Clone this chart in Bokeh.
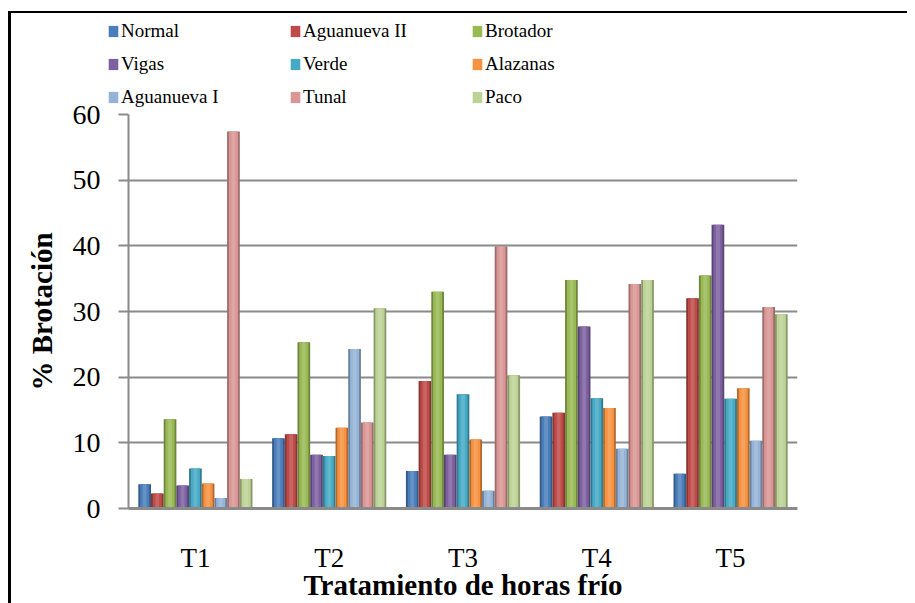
from bokeh.plotting import figure
from bokeh.layouts import column
from bokeh.models import FactorRange, Range1d, Legend, LegendItem, ColumnDataSource, FixedTicker
from bokeh.transform import dodge
from bokeh.embed import file_html
from bokeh.resources import INLINE

treatments = ["T1", "T2", "T3", "T4", "T5"]
series = ["Normal", "Aguanueva II", "Brotador", "Vigas", "Verde",
          "Alazanas", "Aguanueva I", "Tunal", "Paco"]
normal = [3.7, 10.7, 5.7, 14.0, 5.3]
aguanueva_ii = [2.3, 11.3, 19.4, 14.6, 32.0]
brotador = [13.6, 25.3, 33.0, 34.8, 35.5]
vigas = [3.5, 8.2, 8.2, 27.7, 43.2]
verde = [6.1, 8.0, 17.4, 16.8, 16.7]
alazanas = [3.8, 12.3, 10.5, 15.3, 18.3]
aguanueva_i = [1.6, 24.3, 2.7, 9.1, 10.3]
tunal = [57.4, 13.1, 39.9, 34.2, 30.7]
paco = [4.5, 30.5, 20.3, 34.8, 29.6]
y_ticks = [0, 10, 20, 30, 40, 50, 60]

colors = ["#4A7EBB", "#BE4B48", "#98B954", "#7D60A0", "#46AAC5",
          "#F69240", "#94B3D6", "#D99694", "#BDD396"]


def shade(hex_color, f):
    r, g, b = (int(hex_color[i:i + 2], 16) for i in (1, 3, 5))
    return "#%02X%02X%02X" % (int(r * f), int(g * f), int(b * f))


values = [normal, aguanueva_ii, brotador, vigas, verde, alazanas, aguanueva_i, tunal, paco]
keys = ["s%d" % i for i in range(len(series))]
data = {"t": treatments}
for k, v in zip(keys, values):
    data[k] = v
source = ColumnDataSource(data)

SERIF = "Liberation Serif"
bw = 0.0948
TOP = 18

# ---- main chart ----
p = figure(x_range=FactorRange(factors=treatments, range_padding=0),
           y_range=Range1d(0, 60),
           width=896, height=489 + TOP,
           output_backend="svg", toolbar_location=None,
           min_border_left=117, min_border_right=110,
           min_border_top=TOP, min_border_bottom=91)
p.outline_line_color = None
p.background_fill_color = None
p.border_fill_color = None
p.styles = {"margin-top": "-%dpx" % TOP}

for i, (k, c) in enumerate(zip(keys, colors)):
    x = dodge("t", (i - 4) * bw, range=p.x_range)
    p.vbar(x=x, top=k, bottom=0, width=bw, source=source,
           fill_color=shade(c, 0.72), line_color=None)
    p.vbar(x=x, top=k, bottom=0, width=bw * 0.72, source=source,
           fill_color=c, line_color=None)
    p.vbar(x=x, top=k, bottom=0, width=bw * 0.3, source=source,
           fill_color="white", fill_alpha=0.15, line_color=None)

p.xgrid.grid_line_color = None
p.ygrid.grid_line_color = "#8A8A8A"
p.ygrid.grid_line_width = 2
p.yaxis.ticker = FixedTicker(ticks=y_ticks)

p.yaxis.axis_line_color = "#8A8A8A"
p.yaxis.axis_line_width = 2
p.yaxis.major_tick_line_color = "#8A8A8A"
p.yaxis.major_tick_line_width = 2
p.yaxis.major_tick_out = 10
p.yaxis.major_tick_in = 0
p.yaxis.minor_tick_line_color = None
p.yaxis.major_label_standoff = 18
p.yaxis.major_label_text_font = SERIF
p.yaxis.major_label_text_font_size = "28px"
p.yaxis.major_label_text_color = "black"
p.yaxis.axis_label = "% Brotación"
p.yaxis.axis_label_text_font = SERIF
p.yaxis.axis_label_text_font_style = "bold"
p.yaxis.axis_label_text_font_size = "29px"
p.yaxis.axis_label_text_color = "black"
p.yaxis.axis_label_standoff = 12

p.xaxis.axis_line_color = "#8A8A8A"
p.xaxis.axis_line_width = 3
p.xaxis.major_tick_line_color = None
p.xaxis.major_tick_out = 0
p.xaxis.major_tick_in = 0
p.xaxis.minor_tick_line_color = None
p.xaxis.major_label_standoff = 34
p.xaxis.major_label_text_font = SERIF
p.xaxis.major_label_text_font_size = "27px"
p.xaxis.major_label_text_color = "black"
p.xaxis.axis_label = "Tratamiento de horas frío"
p.xaxis.axis_label_text_font = SERIF
p.xaxis.axis_label_text_font_style = "bold"
p.xaxis.axis_label_text_font_size = "29px"
p.xaxis.axis_label_text_color = "black"
p.xaxis.axis_label_standoff = -7

# ---- legend strip (same data, bars lie below its visible range) ----
lf = figure(x_range=p.x_range, y_range=Range1d(100, 101),
            width=896, height=101,
            output_backend="svg", toolbar_location=None,
            x_axis_location=None, y_axis_location=None,
            min_border_left=117, min_border_right=110,
            min_border_top=0, min_border_bottom=0)
lf.outline_line_color = None
lf.grid.visible = False
lf.background_fill_color = None
lf.border_fill_color = None
lf.styles = {"margin-left": "-21px"}

items = []
for i, (k, name, c) in enumerate(zip(keys, series, colors)):
    r = lf.vbar(x=dodge("t", (i - 4) * bw, range=lf.x_range), top=k, bottom=0,
                width=bw, source=source, fill_color=c, line_color=None)
    items.append(LegendItem(label=name, renderers=[r]))

legend = Legend(items=items, orientation="horizontal", ncols=3,
                location=(0, 1), padding=0, margin=0, spacing=0,
                glyph_width=12, glyph_height=14, label_standoff=2,
                label_width=168, label_height=33,
                label_text_font=SERIF, label_text_font_size="19px",
                label_text_color="black",
                border_line_color=None, background_fill_alpha=0)
lf.add_layout(legend, "center")

layout = column(lf, p, spacing=0)
layout.styles = {"margin-top": "11px", "margin-left": "8px",
                 "border-left": "3px solid black",
                 "border-top": "2px solid black", "margin-bottom": "-30px",
                 "background-color": "white"}

open("out.html", "w").write(file_html(layout, INLINE))
